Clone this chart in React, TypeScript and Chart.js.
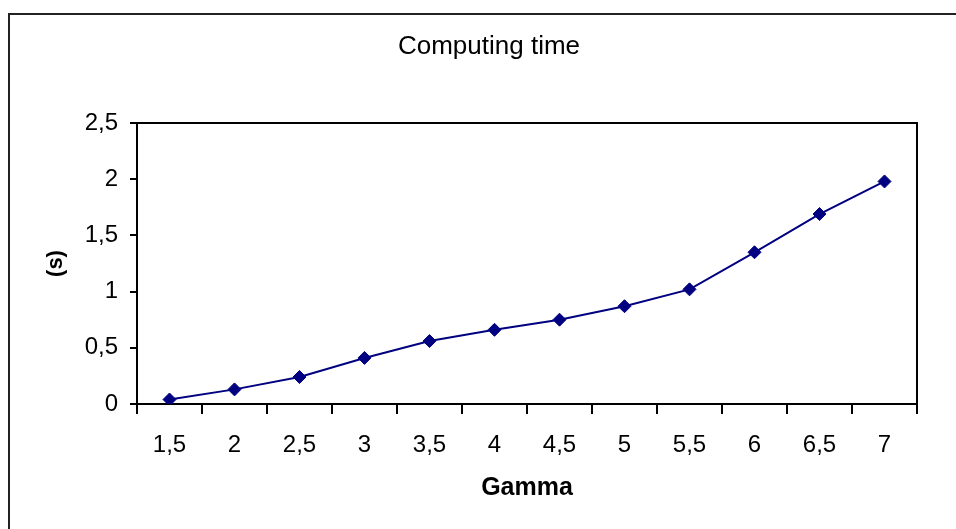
import React, { useEffect, useRef } from "react";
import { Chart, registerables } from "chart.js";

Chart.register(...registerables);

const chartTitle = "Computing time";
const xAxisTitle = "Gamma";
const yAxisTitle = "(s)";
const categories = ["1,5", "2", "2,5", "3", "3,5", "4", "4,5", "5", "5,5", "6", "6,5", "7"];
const computingTime = [0.04, 0.13, 0.24, 0.41, 0.56, 0.66, 0.75, 0.87, 1.02, 1.35, 1.69, 1.98];
const yMin = 0;
const yMax = 2.5;
const yStep = 0.5;

const FONT = "'Liberation Sans', Arial, sans-serif";

const framePlugin = {
  id: "frames",
  beforeDatasetsDraw(chart: any) {
    const { ctx, chartArea } = chart;
    ctx.save();
    ctx.strokeStyle = "#000";
    ctx.lineWidth = 2;
    ctx.strokeRect(chartArea.left, chartArea.top, chartArea.right - chartArea.left, chartArea.bottom - chartArea.top);
    ctx.restore();
  },
  afterDraw(chart: any) {
    const { ctx } = chart;
    ctx.save();
    ctx.strokeStyle = "#222";
    ctx.lineWidth = 2;
    ctx.strokeRect(9, 14, 3000, 3000);
    ctx.fillStyle = "#000";
    ctx.font = `normal 26px ${FONT}`;
    ctx.textAlign = "center";
    ctx.textBaseline = "middle";
    ctx.fillText(chartTitle, 489, 47);
    ctx.restore();
  },
};

export default function App() {
  const ref = useRef<HTMLCanvasElement | null>(null);

  useEffect(() => {
    document.body.style.margin = "0";
    const canvas = ref.current;
    if (!canvas) return;
    const chart = new Chart(canvas, {
      type: "line",
      data: {
        labels: categories,
        datasets: [
          {
            data: computingTime,
            borderColor: "#000080",
            backgroundColor: "#000080",
            borderWidth: 2,
            pointStyle: "rectRot",
            pointRadius: 6.5,
            pointBackgroundColor: "#000080",
            pointBorderColor: "#000080",
            pointBorderWidth: 1,
            tension: 0,
          },
        ],
      },
      options: {
        responsive: false,
        animation: false,
        devicePixelRatio: 1,
        layout: { padding: { top: 123, left: 0, right: 39, bottom: 0 } },
        plugins: {
          legend: { display: false },
          tooltip: { enabled: false },
          title: { display: false },
        },
        scales: {
          x: {
            type: "category",
            offset: true,
            grid: {
              offset: true,
              drawOnChartArea: false,
              drawTicks: true,
              tickLength: 10,
              color: "#000",
              lineWidth: 2,
            },
            border: { display: true, color: "#000", width: 2 },
            ticks: {
              color: "#000",
              font: { family: FONT, size: 24 },
              padding: 17,
              maxRotation: 0,
              autoSkip: false,
            },
            title: {
              display: true,
              text: xAxisTitle,
              color: "#000",
              font: { family: FONT, size: 25, weight: "bold" },
              padding: { top: 0, bottom: 26 },
            },
            afterFit(scale: any) {
              scale.height = 125;
            },
          },
          y: {
            min: yMin,
            max: yMax,
            grid: {
              drawOnChartArea: false,
              drawTicks: true,
              tickLength: 7,
              color: "#000",
              lineWidth: 2,
            },
            border: { display: true, color: "#000", width: 2 },
            ticks: {
              stepSize: yStep,
              color: "#000",
              font: { family: FONT, size: 24 },
              padding: 12,
              callback: (v: any) => String(v).replace(".", ","),
            },
            title: {
              display: true,
              text: yAxisTitle,
              color: "#000",
              font: { family: FONT, size: 22, weight: "bold" },
              padding: { top: 43, bottom: 0 },
            },
            afterFit(scale: any) {
              scale.width = 137;
            },
          },
        },
      },
      plugins: [framePlugin],
    });
    return () => chart.destroy();
  }, []);

  return <canvas ref={ref} width={956} height={529} style={{ display: "block" }} />;
}
